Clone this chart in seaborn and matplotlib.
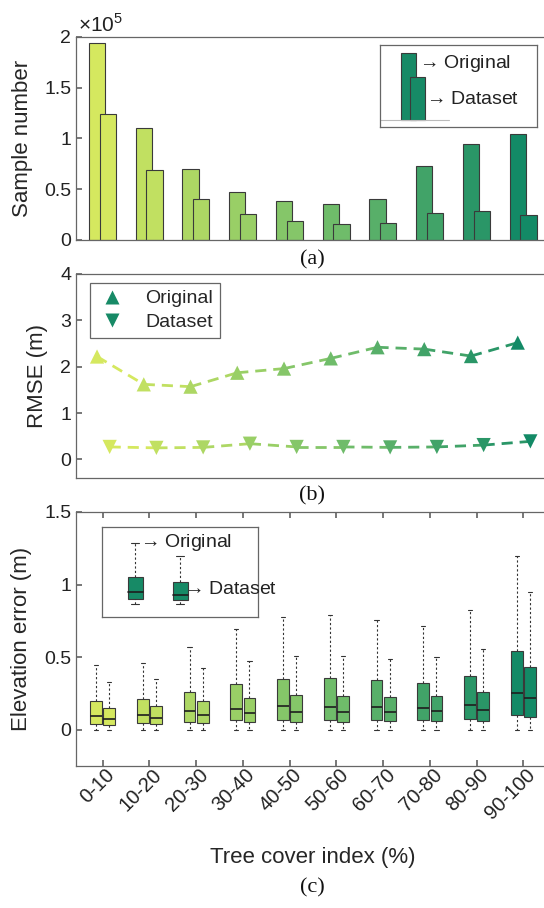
import numpy as np
import pandas as pd
import matplotlib
matplotlib.use("Agg")
import matplotlib.pyplot as plt
from matplotlib.lines import Line2D
from matplotlib.patches import Rectangle
from matplotlib.ticker import FuncFormatter
from matplotlib.transforms import ScaledTranslation
import seaborn as sns

# tree cover bins
groups = ["0-10", "10-20", "20-30", "30-40", "40-50",
          "50-60", "60-70", "70-80", "80-90", "90-100"]

# (a) sample numbers
orig_samples = [194000, 110000, 70000, 47600, 38000, 35600, 40000, 73000, 94000, 104000]
data_samples = [124300, 69000, 40000, 25500, 18300, 15700, 16600, 26100, 28700, 24500]

# (b) RMSE (m)
orig_rmse = [2.22, 1.62, 1.57, 1.87, 1.96, 2.18, 2.42, 2.38, 2.23, 2.52]
data_rmse = [0.27, 0.25, 0.26, 0.34, 0.27, 0.27, 0.26, 0.27, 0.31, 0.39]

# (c) elevation error box stats (m)
orig_lo = [0, 0, 0, 0, 0, 0, 0, 0, 0, 0]
orig_q1 = [0.039, 0.044, 0.055, 0.065, 0.069, 0.069, 0.069, 0.067, 0.071, 0.101]
orig_med = [0.092, 0.100, 0.129, 0.145, 0.164, 0.159, 0.154, 0.152, 0.168, 0.256]
orig_q3 = [0.200, 0.210, 0.260, 0.316, 0.350, 0.355, 0.343, 0.325, 0.373, 0.541]
orig_hi = [0.447, 0.458, 0.569, 0.696, 0.774, 0.788, 0.753, 0.712, 0.823, 1.200]
data_lo = [0, 0, 0, 0, 0, 0, 0, 0, 0, 0]
data_q1 = [0.032, 0.037, 0.044, 0.053, 0.055, 0.055, 0.058, 0.060, 0.062, 0.088]
data_med = [0.076, 0.083, 0.101, 0.118, 0.122, 0.124, 0.122, 0.129, 0.136, 0.217]
data_q3 = [0.152, 0.161, 0.196, 0.219, 0.237, 0.235, 0.226, 0.233, 0.258, 0.433]
data_hi = [0.327, 0.348, 0.424, 0.470, 0.509, 0.511, 0.484, 0.498, 0.558, 0.947]

sns.set_theme(style="white")
plt.rcParams['font.family'] = ['Liberation Sans', 'DejaVu Sans']
plt.rcParams['mathtext.fontset'] = 'custom'
plt.rcParams['mathtext.rm'] = 'Liberation Sans'

pal = sns.blend_palette(["#d5e85f", "#7bc26a", "#138a66"], 10)
dark = "#178a66"
edge = "#3a3a3a"
spine_c = "#666666"
TICK = 14
LAB = 16
ARROW = r"$\rightarrow$"

pos = np.arange(1, 11)

fig = plt.figure(figsize=(5.44, 9.08), dpi=100)
W = 474 / 544
ax_a = fig.add_axes([76 / 544, 1 - 240 / 908, W, 203.3 / 908])
ax_b = fig.add_axes([76 / 544, 1 - 478 / 908, W, 204 / 908])
ax_c = fig.add_axes([76 / 544, 1 - 766 / 908, W, 254 / 908])


def style_axes(ax):
    for s in ax.spines.values():
        s.set_color(spine_c)
        s.set_linewidth(0.9)
    ax.tick_params(direction="in", length=4, color=spine_c, labelsize=TICK,
                   labelcolor="#222222", left=True, right=True)
    ax.set_xlim(0.43, 10.57)


# ---- (a) bars
for off, vals in [(-0.12, orig_samples), (0.11, data_samples)]:
    df = pd.DataFrame({"pos": pos + off, "val": vals, "grp": groups})
    sns.barplot(data=df, x="pos", y="val", hue="grp", hue_order=groups,
                palette=pal, native_scale=True, width=0.35, saturation=1,
                errorbar=None, legend=False, edgecolor=edge, linewidth=0.8, ax=ax_a)
style_axes(ax_a)
ax_a.set_ylim(0, 2e5)
ax_a.set_yticks(np.arange(0, 2.01e5, 0.5e5))
ax_a.yaxis.set_major_formatter(FuncFormatter(lambda v, p: "%g" % (v / 1e5)))
ax_a.set_xticks([])
ax_a.set_xlabel("")
ax_a.set_ylabel("Sample number", fontsize=LAB)
ax_a.yaxis.set_label_coords(-0.09, 0.5)
ax_a.text(0.004, 1.005, r"$\times$10$^5$", transform=ax_a.transAxes,
          fontsize=TICK + 1, ha="left", va="bottom", color="#222222")

# legend drawn as a small picture
la = ax_a.inset_axes([0.642, 0.556, 0.33, 0.403])
la.set_xlim(0, 1)
la.set_ylim(0, 1)
la.set_xticks([])
la.set_yticks([])
for s in la.spines.values():
    s.set_color(spine_c)
    s.set_linewidth(0.9)
la.plot([0, 0.436], [0.085, 0.085], color="#bbbbbb", lw=0.8)
la.add_patch(Rectangle((0.135, 0.085), 0.095, 0.815, fc=dark, ec=edge, lw=0.8))
la.add_patch(Rectangle((0.19, 0.085), 0.095, 0.525, fc=dark, ec=edge, lw=0.8))
la.text(0.225, 0.78, ARROW + "Original", fontsize=TICK, va="center", ha="left", color="#222222")
la.text(0.27, 0.33, ARROW + "Dataset", fontsize=TICK, va="center", ha="left", color="#222222")

# ---- (b) RMSE lines
for off, vals, mk in [(-0.12, orig_rmse, "^"), (0.15, data_rmse, "v")]:
    x = pos + off
    for i in range(len(x) - 1):
        ax_b.plot(x[i:i + 2], vals[i:i + 2], ls=(0, (4, 2.5)), lw=2,
                  color=pal[i], zorder=2)
    sns.scatterplot(x=x, y=vals, hue=groups, hue_order=groups, palette=pal,
                    marker=mk, s=105, edgecolor="none", legend=False,
                    zorder=3, ax=ax_b)
style_axes(ax_b)
ax_b.set_ylim(-0.4, 4)
ax_b.set_yticks([0, 1, 2, 3, 4])
ax_b.set_xticks([])
ax_b.set_ylabel("RMSE (m)", fontsize=LAB)
ax_b.yaxis.set_label_coords(-0.0586, 0.5)
handles = [Line2D([], [], ls="none", marker="^", ms=10.5, color=dark, mec="none"),
           Line2D([], [], ls="none", marker="v", ms=10.5, color=dark, mec="none")]
leg = ax_b.legend(handles, ["Original", "Dataset"], loc="upper left",
                  bbox_to_anchor=(0.029, 0.956), borderaxespad=0,
                  fontsize=TICK, frameon=True, fancybox=False,
                  handlelength=1.6, handletextpad=0.9, borderpad=0.35,
                  labelspacing=0.3)
leg.get_frame().set_edgecolor(spine_c)
leg.get_frame().set_linewidth(0.9)
leg.get_frame().set_alpha(1)

# ---- (c) boxplots
series = [(-0.14, orig_lo, orig_q1, orig_med, orig_q3, orig_hi),
          (0.14, data_lo, data_q1, data_med, data_q3, data_hi)]
for off, lo, q1, med, q3, hi in series:
    rows = []
    for g, p, a, b, c, d, e in zip(groups, pos + off, lo, q1, med, q3, hi):
        for v in (a, b, c, d, e):
            rows.append({"pos": p, "val": v, "grp": g})
    df = pd.DataFrame(rows)
    sns.boxplot(data=df, x="pos", y="val", hue="grp", hue_order=groups,
                palette=pal, native_scale=True, width=0.25, whis=(0, 100),
                saturation=1, legend=False, linecolor=edge, linewidth=0.8,
                whiskerprops={"linestyle": (0, (2, 2)), "color": "#333333"},
                capprops={"color": "#333333"},
                medianprops={"color": "#1e1e1e", "linewidth": 1.2},
                showfliers=False, ax=ax_c)
# shorten whisker caps
for ln in ax_c.lines:
    xd, yd = ln.get_data()
    if len(xd) == 2 and yd[0] == yd[1] and ln.get_linewidth() < 1.0:
        xm = (xd[0] + xd[1]) / 2
        if abs(xd[1] - xd[0]) < 0.2:
            ln.set_xdata([xm - 0.045, xm + 0.045])
style_axes(ax_c)
ax_c.set_ylim(-0.25, 1.5)
ax_c.set_yticks([0, 0.5, 1, 1.5])
ax_c.yaxis.set_major_formatter(FuncFormatter(lambda v, p: "%g" % v))
ax_c.set_xticks(pos)
ax_c.tick_params(axis="x", top=True, bottom=True, pad=4)
ax_c.set_xticklabels(groups, rotation=45, ha="right", va="center",
                     rotation_mode="anchor", fontsize=TICK + 0.5)
shift = ScaledTranslation(9 / 100, 0, fig.dpi_scale_trans)
for lbl in ax_c.get_xticklabels():
    lbl.set_transform(lbl.get_transform() + shift)
ax_c.set_xlabel("Tree cover index (%)", fontsize=LAB)
ax_c.xaxis.set_label_coords(0.5, -0.32)
ax_c.set_ylabel("Elevation error (m)", fontsize=LAB)
ax_c.yaxis.set_label_coords(-0.092, 0.5)

lc = ax_c.inset_axes([0.054, 0.587, 0.33, 0.354])
lc.set_xlim(0, 1)
lc.set_ylim(0, 1)
lc.set_xticks([])
lc.set_yticks([])
for s in lc.spines.values():
    s.set_color(spine_c)
    s.set_linewidth(0.9)
for x0, yb, yt, ym, yw in [(0.167, 0.2, 0.444, 0.278, 0.822),
                           (0.455, 0.189, 0.389, 0.244, 0.678)]:
    xc = x0 + 0.048
    lc.plot([xc, xc], [yt, yw], ls=(0, (2, 2)), color="#333333", lw=0.8)
    lc.plot([xc, xc], [0.144, yb], ls=(0, (2, 2)), color="#333333", lw=0.8)
    lc.plot([xc - 0.025, xc + 0.025], [yw, yw], color="#333333", lw=0.8)
    lc.plot([xc - 0.025, xc + 0.025], [0.144, 0.144], color="#333333", lw=0.8)
    lc.add_patch(Rectangle((x0, yb), 0.096, yt - yb, fc=dark, ec=edge, lw=0.8))
    lc.plot([x0, x0 + 0.096], [ym, ym], color="#1e1e1e", lw=1.2)
lc.text(0.225, 0.822, ARROW + "Original", fontsize=TICK, va="center", ha="left", color="#222222")
lc.text(0.505, 0.30, ARROW + "Dataset", fontsize=TICK, va="center", ha="left", color="#222222")

# panel letters
for y, s in [(260, "(a)"), (496, "(b)"), (888, "(c)")]:
    fig.text(312 / 544, 1 - y / 908, s, ha="center", va="center",
             fontsize=LAB, family="Liberation Serif", color="#111111")

fig.savefig("out.png", dpi=100, facecolor="white")
